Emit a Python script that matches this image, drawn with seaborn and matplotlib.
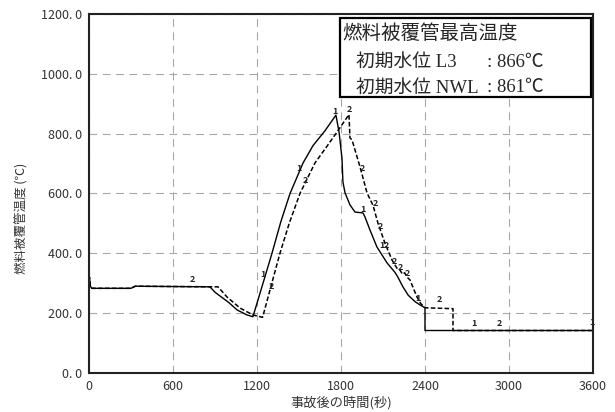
import matplotlib
matplotlib.use("Agg")
import matplotlib.pyplot as plt
import seaborn as sns
import pandas as pd
from matplotlib.patches import Rectangle

# ---- data ----
t_l3 = [0, 3, 10, 20, 300, 330, 864, 900, 957, 1000, 1057, 1129, 1171,
        1243, 1307, 1370, 1436, 1529, 1600, 1686, 1764, 1786, 1807, 1814, 1829,
        1864, 1900, 1957, 1971, 2007, 2057, 2129, 2186, 2207, 2240, 2280, 2330, 2370,
        2400, 2400, 3600]
T_l3 = [290, 321, 290, 283, 283, 290, 288, 270, 250, 235, 211, 194, 188,
        300, 400, 505, 600, 702, 760, 810, 862, 806, 718, 638, 602,
        562, 538, 535, 522, 478, 421, 368, 336, 320, 290, 260, 238, 226,
        218, 142, 142]

t_nwl = [0, 3, 10, 20, 300, 330, 921, 986, 1079, 1171, 1240,
         1300, 1364, 1430, 1507, 1614, 1700, 1771, 1857, 1864, 1879, 1936, 1986,
         2029, 2064, 2114, 2164, 2200, 2221, 2240, 2255, 2271, 2293, 2320, 2343,
         2370, 2400, 2600, 2600, 3600]
T_nwl = [290, 321, 290, 283, 283, 290, 288, 254, 217, 194, 186,
         290, 400, 500, 600, 702, 758, 805, 864, 786, 779, 689, 602,
         560, 501, 434, 378, 350, 344, 330, 335, 321, 311, 280, 254,
         232, 218, 215, 142, 142]

x_ticks = [0, 600, 1200, 1800, 2400, 3000, 3600]
y_ticks = [0, 200, 400, 600, 800, 1000, 1200]
y_ticklabels = ["0. 0", "200. 0", "400. 0", "600. 0", "800. 0", "1000. 0", "1200. 0"]

legend_title = "燃料被覆管最高温度"
legend_names = ["初期水位 L3", "初期水位 NWL"]
legend_values = [": 866℃", ": 861℃"]

# curve number labels (t, T, label)
lab_t = [736, 1243, 1300, 1500, 1543, 1760, 1860, 1950, 2043, 2079, 2121, 2179, 2221, 2271,
         1960, 2090, 2350, 2500, 2750, 2930, 3590]
lab_T = [311, 328, 288, 685, 642, 875, 880, 685, 565, 490, 425, 373, 353, 333,
         545, 425, 248, 245, 165, 165, 170]
lab_s = ["2", "1", "2", "1", "2", "1", "2", "2", "2", "2", "2", "2", "2", "2",
         "1", "1", "1", "2", "1", "2", "1"]

df1 = pd.DataFrame({"t": t_l3, "T": T_l3})
df2 = pd.DataFrame({"t": t_nwl, "T": T_nwl})

sns.set_theme(style="white")
plt.rcParams["font.family"] = ["Noto Sans CJK JP", "DejaVu Sans"]

fig = plt.figure(figsize=(6.15, 4.12), dpi=100)
ax = fig.add_axes([0.1447, 0.0947, 0.8195, 0.8713])

sns.lineplot(data=df2, x="t", y="T", ax=ax, color="black", lw=1.1,
             estimator=None, sort=False, linestyle=(0, (3, 1.5)))
sns.lineplot(data=df1, x="t", y="T", ax=ax, color="black", lw=1.0,
             estimator=None, sort=False)

for tt, TT, s in zip(lab_t, lab_T, lab_s):
    ax.text(tt, TT, s, fontsize=6.5, color="#222222", ha="center", va="center",
            fontweight="bold")

ax.set_xlim(0, 3600)
ax.set_ylim(0, 1200)
ax.set_xticks(x_ticks)
ax.set_yticks(y_ticks)
ax.set_yticklabels(y_ticklabels)
ax.tick_params(axis="both", length=0, labelsize=9, labelcolor="#333333", pad=5)
ax.grid(True, color="#a8a8a8", linestyle=(0, (7, 5)), lw=0.8)
for sp in ax.spines.values():
    sp.set_color("#222222")
    sp.set_linewidth(1.5)

ax.set_xlabel("事故後の時間(秒)", fontsize=9.5, color="#333333", labelpad=2)
ax.set_ylabel("燃料被覆管温度 (℃)", fontsize=9, color="#333333")
ax.yaxis.set_label_coords(-0.12, 0.43)

# annotation box
ax.add_patch(Rectangle((0.498, 0.769), 0.499, 0.22, transform=ax.transAxes,
                       fill=True, facecolor="white", edgecolor="black", lw=1.6,
                       zorder=5))
serif = ["Liberation Serif", "Noto Sans CJK JP"]
ax.text(0.503, 0.945, legend_title, transform=ax.transAxes, fontsize=14,
        va="center", ha="left", family=serif, zorder=6)
for i, (n, v) in enumerate(zip(legend_names, legend_values)):
    y = 0.866 - i * 0.072
    ax.text(0.530, y, n, transform=ax.transAxes, fontsize=13.5, va="center",
            ha="left", family=serif, zorder=6)
    ax.text(0.790, y, v, transform=ax.transAxes, fontsize=13.5, va="center",
            ha="left", family=serif, zorder=6)

fig.savefig("out.png", dpi=100)
